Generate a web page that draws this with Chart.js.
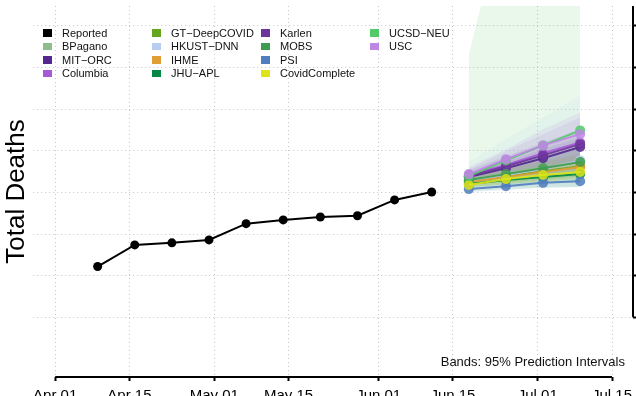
<!DOCTYPE html>
<html>
<head>
<meta charset="utf-8">
<script src="https://cdn.jsdelivr.net/npm/chart.js@4.4.1/dist/chart.umd.min.js"></script>
<style>
  html, body { margin: 0; padding: 0; overflow: hidden; background: #fff; }
  #wrap { position: relative; width: 636px; height: 403px; }
  #chart { display: block; }
  #legend {
    position: absolute; left: 43px; top: 26px;
    display: grid; grid-auto-flow: column;
    grid-template-rows: repeat(4, 13.5px); grid-auto-columns: 109px;
    font: 11px 'Liberation Sans', Arial, sans-serif; color: #111;
  }
  .item { display: flex; align-items: center; height: 13.5px; white-space: nowrap; }
  .sw { width: 8.5px; height: 7.5px; margin-right: 10.5px; flex: none; }
  #note {
    position: absolute; right: 11px; top: 354px;
    font: 13px 'Liberation Sans', Arial, sans-serif; color: #111;
  }
</style>
</head>
<body>
<div id="wrap">
  <canvas id="chart" width="636" height="403"></canvas>
  <div id="legend"></div>
  <div id="note">Bands: 95% Prediction Intervals</div>
</div>
<script>
// x axis: days since Apr 01
const tickDays = [0, 14, 30, 44, 61, 75, 91, 105];
const tickLabels = ['Apr 01', 'Apr 15', 'May 01', 'May 15', 'Jun 01', 'Jun 15', 'Jul 01', 'Jul 15'];
const yTicks = [1400, 1500, 1600, 1700, 1800, 1900, 2000, 2100];

const reportedDays = [8, 15, 22, 29, 36, 43, 50, 57, 64, 71];
const reportedDeaths = [1522, 1574, 1579, 1586, 1625, 1634, 1641, 1644, 1682, 1701];

const forecastDays = [78, 85, 92, 99];

const models = ['BPagano', 'MIT\u2212ORC', 'Columbia', 'GT\u2212DeepCOVID', 'HKUST\u2212DNN', 'IHME',
  'JHU\u2212APL', 'Karlen', 'MOBS', 'PSI', 'CovidComplete', 'UCSD\u2212NEU', 'USC'];
const modelColors = ['#8fbc8f', '#54278f', '#a65ad6', '#66a61e', '#b8cdf0', '#e09f36',
  '#008844', '#6b3599', '#3d9c4f', '#507dbe', '#dee419', '#52ca68', '#be87e4'];

// point forecasts (median)
const fcMedian = [
  [1732, 1746, 1761, 1773],
  [1737, 1758, 1782, 1809],
  [1742, 1766, 1794, 1820],
  [1727, 1739, 1751, 1763],
  [1727, 1742, 1756, 1777],
  [1725, 1737, 1749, 1761],
  [1720, 1730, 1737, 1744],
  [1739, 1763, 1789, 1816],
  [1730, 1744, 1758, 1773],
  [1708, 1715, 1723, 1727],
  [1718, 1732, 1742, 1749],
  [1739, 1777, 1813, 1849],
  [1744, 1780, 1813, 1840]
];
// 95% interval bounds
const fcLower = [
  [1718, 1727, 1737, 1746],
  [1727, 1742, 1761, 1780],
  [1723, 1732, 1742, 1749],
  [1718, 1725, 1732, 1739],
  [1708, 1711, 1713, 1715],
  [1713, 1720, 1727, 1732],
  [1713, 1718, 1723, 1727],
  [1725, 1739, 1756, 1773],
  [1715, 1723, 1730, 1737],
  [1701, 1706, 1711, 1713],
  [1711, 1720, 1727, 1732],
  [1703, 1708, 1711, 1713],
  [1727, 1737, 1744, 1751]
];
const fcUpper = [
  [1744, 1768, 1789, 1809],
  [1746, 1775, 1804, 1832],
  [1756, 1799, 1840, 1880],
  [1737, 1756, 1773, 1789],
  [1773, 1828, 1880, 1933],
  [1737, 1756, 1775, 1794],
  [1727, 1742, 1754, 1766],
  [1754, 1787, 1820, 1852],
  [1742, 1766, 1787, 1809],
  [1715, 1725, 1734, 1744],
  [1727, 1744, 1758, 1770],
  [2031, 2391, 2759, 3118],
  [1761, 1804, 1852, 1892]
];

function rgba(hex, a) {
  const n = parseInt(hex.slice(1), 16);
  return `rgba(${n >> 16}, ${(n >> 8) & 255}, ${n & 255}, ${a})`;
}
const pts = (xs, ys) => xs.map((x, i) => ({ x, y: ys[i] }));

const datasets = [];
// bands first (drawn underneath)
models.forEach((name, i) => {
  datasets.push({
    label: name + ' lower', data: pts(forecastDays, fcLower[i]),
    borderWidth: 0, pointRadius: 0, fill: false, order: 300 - 2 * i
  });
  datasets.push({
    label: name + ' upper', data: pts(forecastDays, fcUpper[i]),
    borderWidth: 0, pointRadius: 0, fill: '-1',
    backgroundColor: rgba(modelColors[i], 0.13), order: 299 - 2 * i
  });
});
models.forEach((name, i) => {
  datasets.push({
    label: name, data: pts(forecastDays, fcMedian[i]),
    borderColor: rgba(modelColors[i], 0.9), backgroundColor: rgba(modelColors[i], 0.85),
    borderWidth: 2, pointRadius: 5, pointBorderWidth: 0, order: 100 - i
  });
});
datasets.push({
  label: 'Reported', data: pts(reportedDays, reportedDeaths),
  borderColor: '#000', backgroundColor: '#000', borderWidth: 2,
  pointRadius: 4.5, pointBorderWidth: 0, order: 0
});

// R-style axis lines running from first to last tick
const axisLines = {
  id: 'axisLines',
  afterDraw(chart) {
    const { ctx, chartArea, scales: { x, y } } = chart;
    ctx.save();
    ctx.strokeStyle = '#000';
    ctx.lineWidth = 2;
    ctx.beginPath();
    ctx.moveTo(x.getPixelForValue(tickDays[0]), chartArea.bottom);
    ctx.lineTo(x.getPixelForValue(tickDays[tickDays.length - 1]), chartArea.bottom);
    ctx.moveTo(chartArea.right, chartArea.top);
    ctx.lineTo(chartArea.right, y.getPixelForValue(yTicks[0]));
    ctx.stroke();
    ctx.restore();
  }
};

// labels may run past the canvas edge, as in the original
const noPad = (s) => { s.paddingLeft = 0; s.paddingRight = 0; s.paddingTop = 0; s.paddingBottom = 0; };

Chart.defaults.font.family = "'Liberation Sans', Arial, sans-serif";
Chart.defaults.color = '#000';

const gridStyle = {
  color: '#c4c4c4', lineWidth: 1, tickColor: '#000', tickWidth: 2,
  tickBorderDash: [], drawTicks: true
};

new Chart(document.getElementById('chart'), {
  type: 'line',
  data: { datasets },
  plugins: [axisLines],
  options: {
    responsive: false,
    animation: false,
    layout: { padding: { top: 6, left: 0, right: 0, bottom: 0 }, autoPadding: false },
    plugins: { legend: { display: false }, tooltip: { enabled: false } },
    scales: {
      x: {
        type: 'linear', position: 'bottom', min: -4.15, max: 108.96, bounds: 'data',
        afterBuildTicks: (s) => { s.ticks = tickDays.map(v => ({ value: v })); },
        // keep the plot tall; the date labels hang below and get cut by the window
        afterFit: (s) => { noPad(s); s.height = 26; },
        ticks: {
          autoSkip: false, maxRotation: 0, padding: 6,
          font: { size: 15 }, callback: (v, i) => tickLabels[i]
        },
        grid: { ...gridStyle, tickLength: 4 },
        border: { display: false, dash: [1, 3] }
      },
      y: {
        type: 'linear', position: 'right', min: 1256.7, max: 2147.8, bounds: 'data',
        afterBuildTicks: (s) => { s.ticks = yTicks.map(v => ({ value: v })); },
        afterFit: noPad,
        ticks: { display: false },
        grid: { ...gridStyle, tickLength: 3 },
        border: { display: false, dash: [1, 3] }
      },
      yl: {
        type: 'linear', position: 'left', min: 1256.7, max: 2147.8,
        afterFit: noPad,
        ticks: { display: false },
        grid: { display: false, drawTicks: false },
        border: { display: false },
        title: {
          display: true, text: 'Total Deaths', color: '#000',
          font: { size: 26 }, padding: { top: 1, bottom: 1 }
        }
      }
    }
  }
});

// legend, column-major with 4 rows like the original
const legendEl = document.getElementById('legend');
const legendNames = ['Reported', ...models];
const legendColors = ['#000', ...modelColors];
legendNames.forEach((name, i) => {
  const item = document.createElement('div');
  item.className = 'item';
  item.innerHTML = `<span class="sw" style="background:${legendColors[i]}"></span><span>${name}</span>`;
  legendEl.appendChild(item);
});
</script>
</body>
</html>
